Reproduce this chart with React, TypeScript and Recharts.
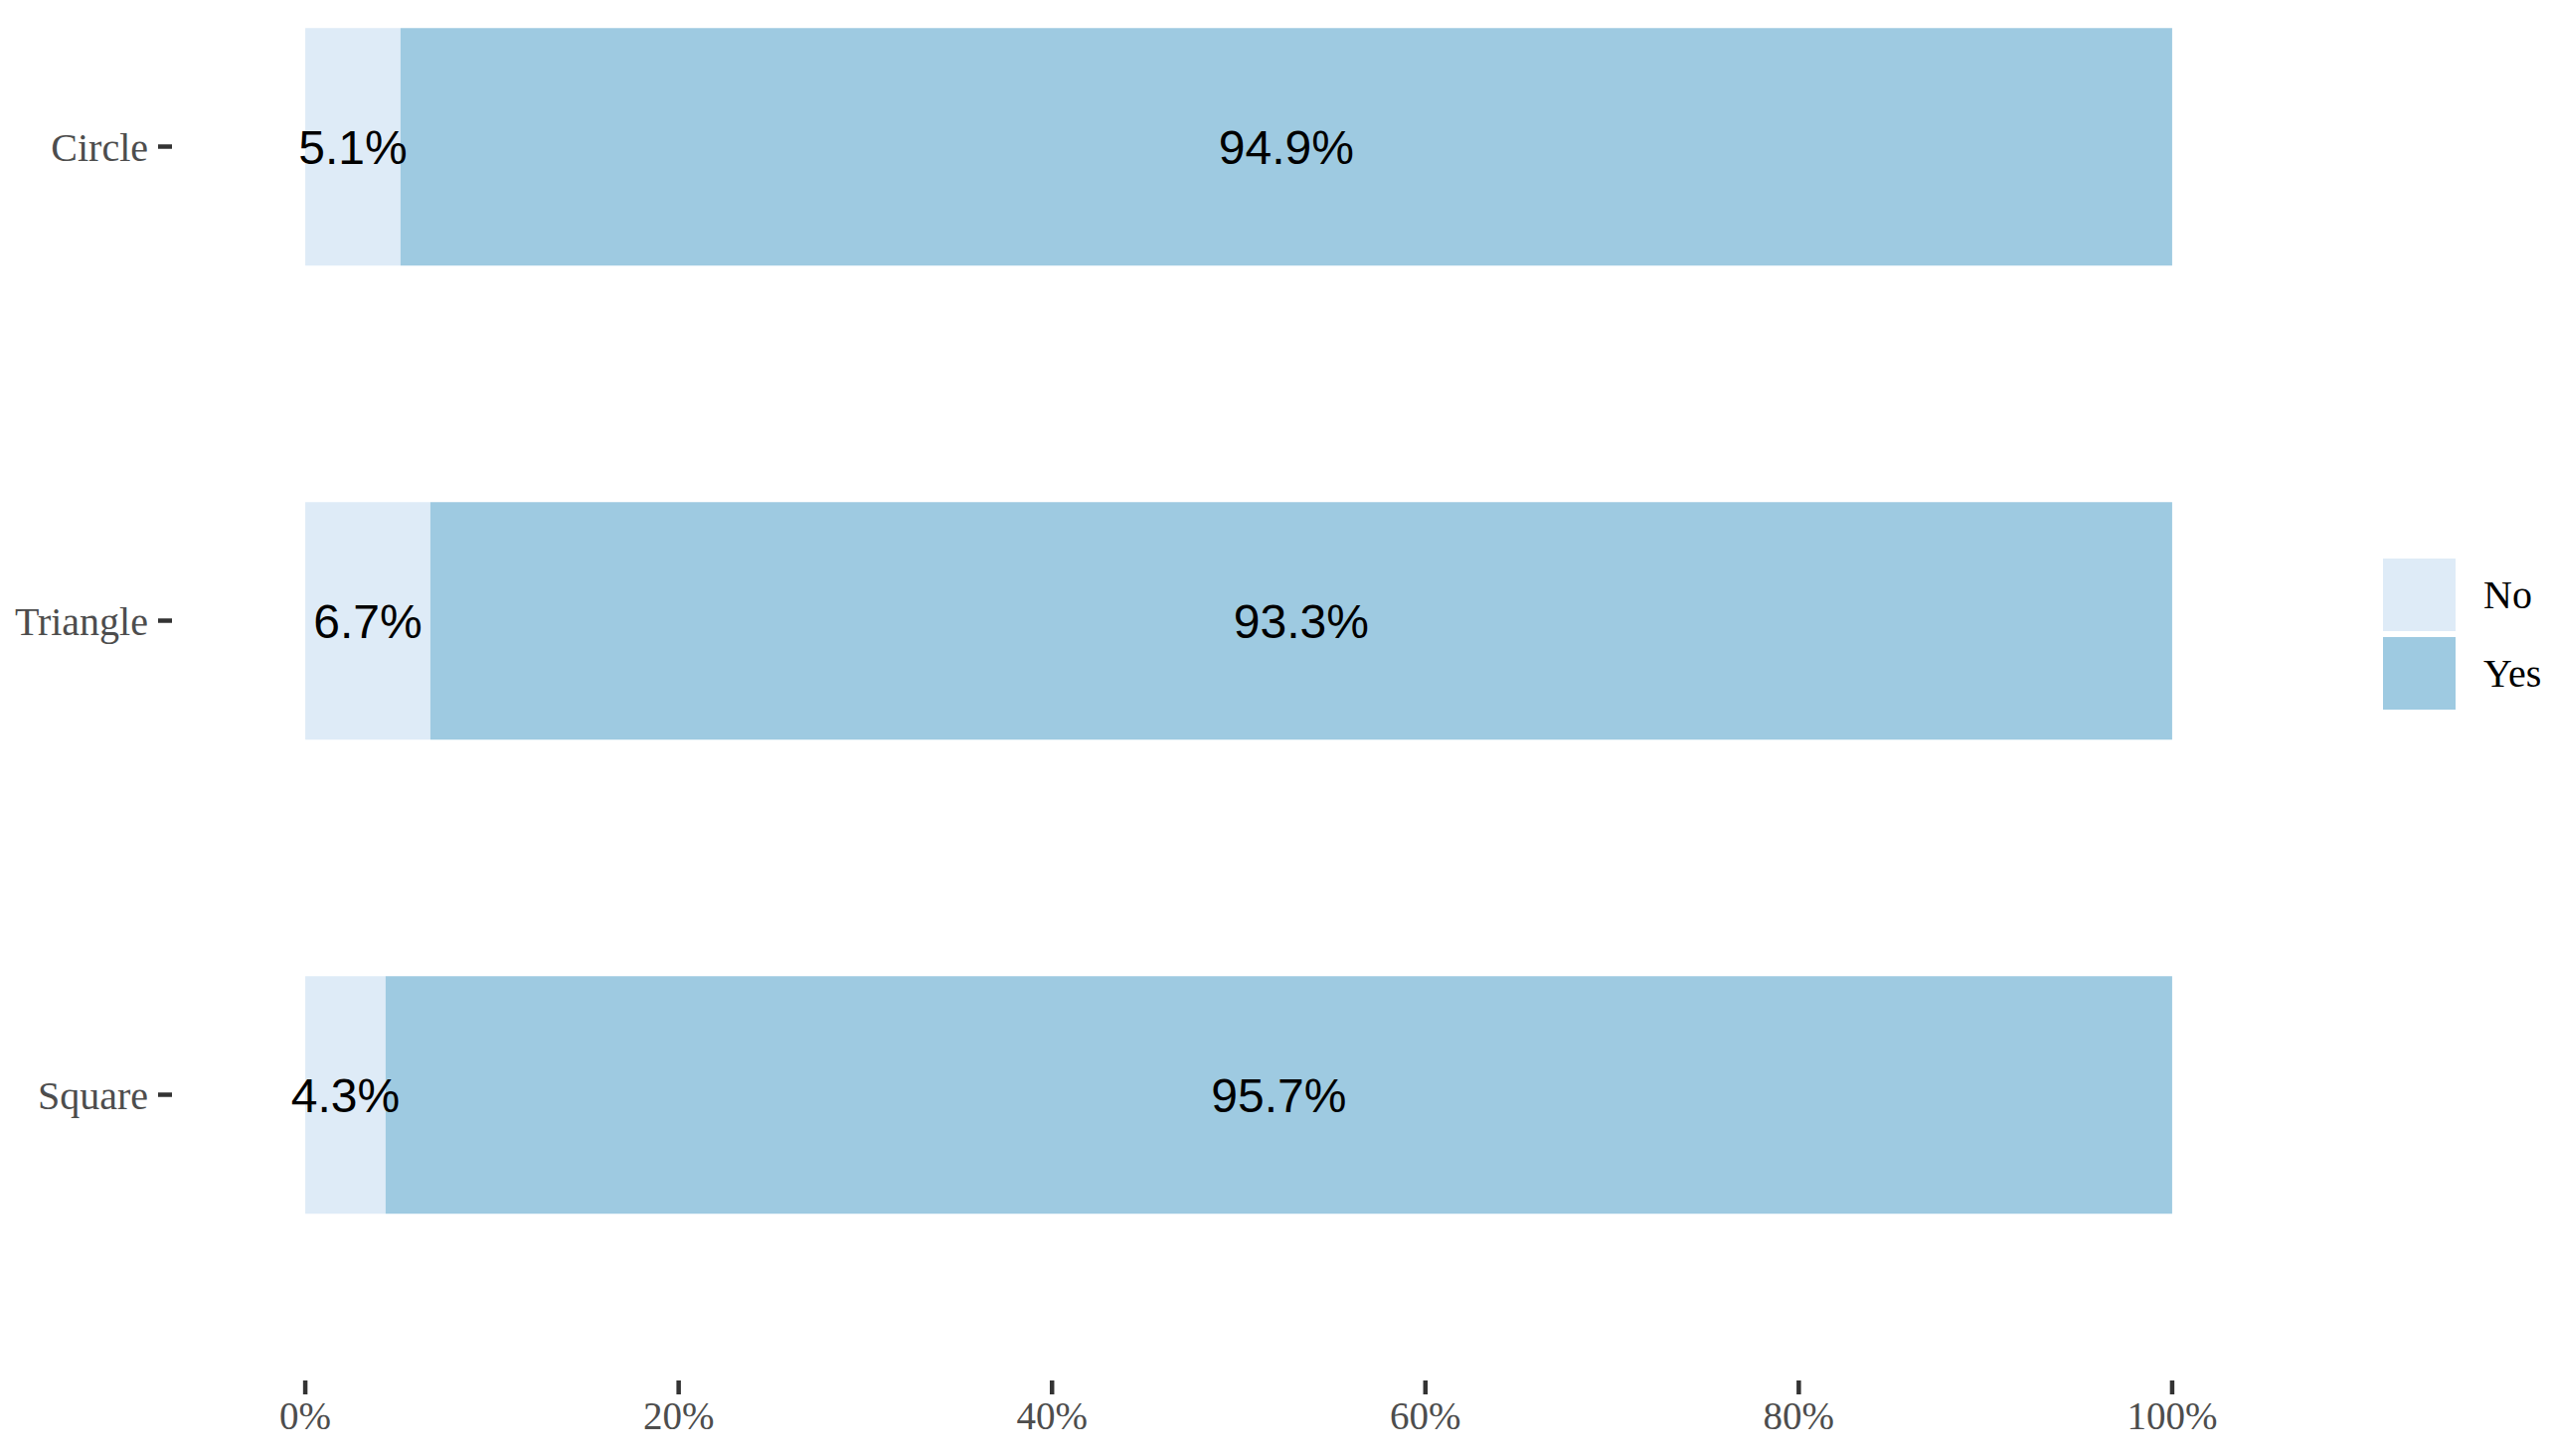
import { BarChart, Bar, XAxis, YAxis, Legend, LabelList } from 'recharts';

// 도형별 응답 비율 (No / Yes)
const shapes = ['Circle', 'Triangle', 'Square'];
const noShare = [0.051, 0.067, 0.043];
const yesShare = [0.949, 0.933, 0.957];
const xTicks = [0, 0.2, 0.4, 0.6, 0.8, 1];
const seriesNames = ['No', 'Yes'];
const seriesColors = ['#deebf7', '#9ecae1'];

const data = shapes.map((shape, i) => ({ shape, No: noShare[i], Yes: yesShare[i] }));

const serif = '"Liberation Serif", "Times New Roman", serif';
const sans = '"Liberation Sans", Arial, sans-serif';

const pct0 = (v: number) => `${Math.round(v * 100)}%`;
const pct1 = (v: any) => `${(Number(v) * 100).toFixed(1)}%`;

const LegendBox = ({ payload }: any) => (
    <div>
        {(payload || []).map((p: any) => (
            <div key={p.value} style={{ display: 'flex', alignItems: 'center', marginBottom: 6 }}>
                <div style={{ width: 73, height: 73, background: p.color }} />
                <span style={{ marginLeft: 28, fontFamily: serif, fontSize: 40, color: '#000' }}>{p.value}</span>
            </div>
        ))}
    </div>
);

export default function App() {
    return (
        <div style={{ position: 'absolute', left: 0, top: 0, width: 2567, height: 1465, overflow: 'hidden', background: '#fff' }}>
            <BarChart
                width={2567}
                height={1465}
                data={data}
                layout="vertical"
                margin={{ top: -91, right: 248, bottom: 0, left: 0 }}
                barCategoryGap="25%"
            >
                <XAxis
                    type="number"
                    domain={[-0.0714, 1.0714]}
                    ticks={xTicks}
                    tickFormatter={pct0}
                    axisLine={false}
                    tickSize={14}
                    tickMargin={7}
                    height={76}
                    tickLine={{ stroke: '#333333', strokeWidth: 4.5 }}
                    tick={{ fill: '#4d4d4d', fontSize: 39, fontFamily: serif }}
                />
                <YAxis
                    type="category"
                    dataKey="shape"
                    width={173}
                    padding={{ top: 0, bottom: 49 }}
                    axisLine={false}
                    tickSize={14}
                    tickMargin={10}
                    tickLine={{ stroke: '#333333', strokeWidth: 4.5 }}
                    tick={{ fill: '#4d4d4d', fontSize: 40, fontFamily: serif }}
                />
                <Legend
                    layout="vertical"
                    align="center"
                    verticalAlign="middle"
                    content={<LegendBox />}
                    wrapperStyle={{ left: 2397, top: 562, width: 160 }}
                />
                {seriesNames.map((name, i) => (
                    <Bar key={name} dataKey={name} name={name} stackId="a" fill={seriesColors[i]} isAnimationActive={false}>
                        <LabelList dataKey={name} position="center" formatter={pct1} fill="#000" fontSize={48} fontFamily={sans} />
                    </Bar>
                ))}
            </BarChart>
        </div>
    );
}
